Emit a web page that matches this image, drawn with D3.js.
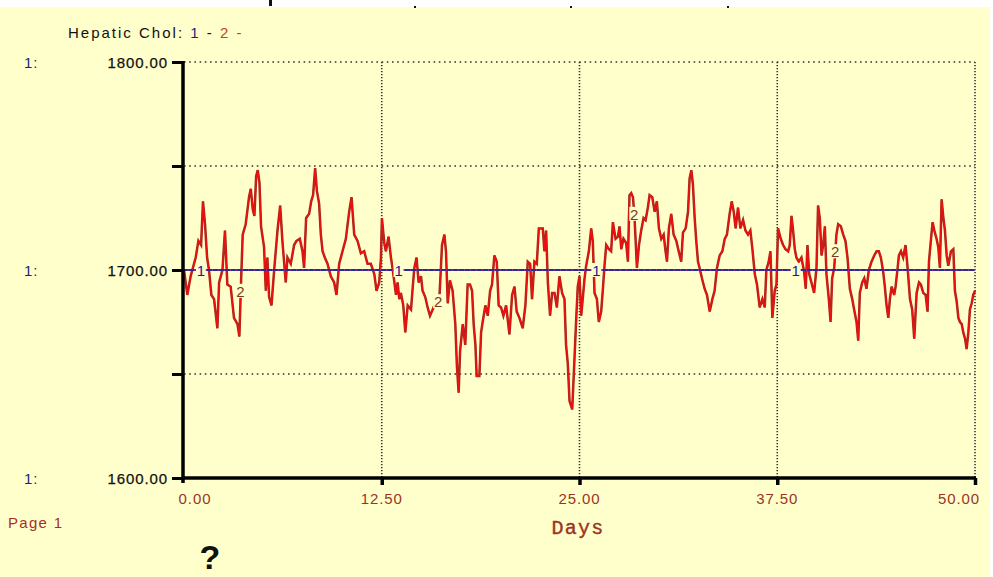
<!DOCTYPE html>
<html><head><meta charset="utf-8">
<script src="https://cdn.jsdelivr.net/npm/d3@7"></script>
<style>
html,body{margin:0;padding:0;background:#fff;}
svg{display:block;}
</style></head>
<body>
<script>
// ---- data ----
const yTicks = [1600, 1650, 1700, 1750, 1800];
const yLabelTicks = [1600, 1700, 1800];
const xTicks = [0, 12.5, 25, 37.5, 50];
const series1Days = [0, 50];
const series1Values = [1700, 1700];
const series1LabelDays = [1, 13.5, 26, 38.6];
const series2LabelDays = [3.5, 16.0, 28.4, 41.1];
const series2LabelValues = [1690, 1685, 1727, 1709];
const series2Days = [
 0.00,0.21,0.42,0.74,0.91,1.08,1.20,1.33,1.46,1.58,1.73,1.90,2.11,2.22,2.43,2.59,2.74,2.95,3.16,3.38,3.50,3.61,3.71,3.90,
 4.11,4.22,4.35,4.45,4.56,4.66,4.77,4.87,5.06,5.17,5.27,5.38,5.53,5.70,5.91,6.08,6.22,6.43,6.54,6.75,6.96,7.11,7.32,7.49,
 7.59,7.72,7.91,8.04,8.16,8.29,8.40,8.54,8.65,8.76,8.90,9.07,9.28,9.49,9.64,9.81,10.02,10.23,10.44,10.59,10.76,10.97,11.18,
 11.39,11.60,11.81,12.03,12.17,12.34,12.45,
 12.51,12.66,12.76,12.93,13.08,13.18,13.40,13.50,13.61,13.71,13.86,13.99,14.14,14.35,14.45,14.56,14.70,14.83,14.98,15.08,
 15.25,15.40,15.55,15.72,15.93,16.14,16.31,16.46,16.56,16.67,16.81,16.98,17.15,17.25,17.36,17.45,17.62,17.78,17.93,18.08,
 18.21,18.31,18.42,18.50,18.67,18.78,18.88,19.05,19.20,19.35,19.47,19.62,19.77,19.89,20.04,20.19,20.36,20.57,20.74,20.89,
 21.03,21.20,21.41,21.58,21.73,21.88,22.00,22.15,22.30,22.43,22.68,22.78,22.89,23.00,23.14,23.27,23.42,23.57,23.73,23.90,
 24.05,24.15,24.26,24.37,24.54,24.64,24.79,24.89,25.00,
 25.11,25.32,25.42,25.59,25.74,25.84,25.95,26.10,26.22,26.37,26.48,26.58,26.69,26.86,27.00,27.11,27.28,27.43,27.53,27.64,
 27.78,27.95,28.06,28.16,28.27,28.38,28.48,28.63,28.76,28.90,29.05,29.18,29.32,29.43,29.60,29.75,29.89,30.02,30.17,30.32,
 30.44,30.53,30.65,30.80,30.95,31.12,31.27,31.43,31.54,31.71,31.86,31.96,32.07,32.17,32.28,32.38,32.49,32.59,32.74,32.91,
 33.06,33.23,33.40,33.54,33.69,33.86,34.03,34.18,34.32,34.49,34.62,34.75,34.87,35.02,35.17,35.34,35.49,35.65,35.80,35.93,
 36.08,36.22,36.39,36.56,36.71,36.81,36.96,37.07,37.19,37.34,
 37.45,37.55,37.72,37.87,38.02,38.19,38.29,38.40,38.50,38.61,38.71,38.86,39.03,39.20,39.30,39.41,39.52,39.66,39.83,39.98,
 40.08,40.19,40.30,40.40,40.51,40.61,40.76,40.87,40.97,41.10,41.24,41.35,41.52,41.67,41.81,41.94,42.09,42.24,42.36,42.51,
 42.62,42.72,42.87,43.00,43.14,43.29,43.46,43.63,43.78,43.92,44.05,44.20,44.30,44.41,44.52,44.62,44.73,44.89,44.98,45.11,
 45.19,45.32,45.46,45.61,45.74,45.89,46.03,46.16,46.31,46.46,46.58,46.73,46.88,47.00,47.09,47.22,47.32,47.43,47.57,47.68,
 47.78,47.89,48.00,48.10,48.21,48.31,48.48,48.63,48.73,48.84,48.95,49.05,49.16,49.26,49.37,49.47,49.58,49.68,49.79,49.89,50.00
];
const series2Values = [
 1700,1688,1697,1706,1714,1712,1733,1722,1706,1700,1688,1686,1672,1694,1700,1719,1693,1692,1677,1674,1668,1695,1717,1722,
 1735,1739,1729,1726,1745,1748,1742,1721,1711,1690,1706,1687,1683,1700,1719,1731,1714,1694,1706,1703,1712,1714,1715,1709,
 1701,1725,1727,1733,1736,1749,1738,1732,1717,1709,1706,1703,1697,1694,1688,1703,1709,1715,1728,1735,1717,1714,1708,
 1709,1703,1703,1698,1690,1694,1706,
 1725,1713,1709,1716,1706,1701,1688,1694,1686,1689,1683,1670,1683,1681,1691,1701,1706,1694,1697,1690,
 1687,1682,1678,1681,1685,1686,1712,1717,1709,1684,1695,1690,1674,1654,1641,1661,1674,1664,1693,1693,
 1690,1674,1664,1649,1649,1670,1675,1683,1678,1690,1693,1707,1704,1683,1682,1678,1683,1669,1688,1692,
 1680,1677,1672,1683,1704,1703,1686,1704,1703,1720,1720,1709,1719,1694,1678,1689,1689,1682,1697,1689,
 1686,1664,1655,1637,1633,1650,1676,1692,1697,
 1678,1696,1702,1709,1720,1714,1689,1686,1675,1680,1691,1702,1712,1710,1709,1723,1715,1716,1721,1710,
 1715,1713,1704,1736,1737,1735,1725,1701,1712,1719,1725,1724,1730,1736,1735,1728,1733,1720,1715,1717,
 1709,1704,1720,1727,1717,1714,1709,1704,1718,1720,1728,1744,1748,1741,1725,1714,1704,1701,1696,1691,
 1688,1680,1686,1690,1701,1707,1709,1715,1717,1727,1733,1728,1720,1730,1720,1724,1719,1717,1719,1710,
 1698,1693,1682,1686,1682,1700,1704,1709,1677,1690,
 1693,1720,1715,1712,1710,1709,1712,1726,1719,1710,1706,1704,1706,1699,1691,1712,1698,1694,1689,1701,
 1731,1725,1707,1712,1721,1698,1686,1675,1696,1701,1717,1722,1721,1717,1714,1706,1691,1686,1681,1675,
 1666,1689,1694,1696,1691,1700,1704,1707,1709,1709,1706,1699,1692,1683,1677,1686,1692,1688,1692,1701,
 1707,1709,1706,1712,1701,1686,1681,1667,1689,1694,1693,1689,1688,1680,1704,1715,1723,1719,1715,1711,
 1701,1734,1725,1719,1707,1702,1709,1710,1690,1685,1677,1675,1674,1670,1667,1662,1670,1681,1684,1688,1690
];

// ---- drawing ----
const W = 993, H = 577;
const bg = "#ffffcc";
const svg = d3.select("body").append("svg").attr("width", W).attr("height", H);
svg.append("rect").attr("width", W).attr("height", H).attr("fill", "#ffffff");
svg.append("rect").attr("x", 0).attr("y", 7).attr("width", 990).attr("height", H - 7).attr("fill", bg);
// toolbar remnants at top
[[269, 0, 3, 6], [414, 6, 2, 2], [570, 6, 2, 2], [727, 6, 2, 2]].forEach(d =>
  svg.append("rect").attr("x", d[0]).attr("y", d[1]).attr("width", d[2]).attr("height", d[3]).attr("fill", "#111"));

const x = d3.scaleLinear().domain([0, 50]).range([184, 975]);
const y = d3.scaleLinear().domain([1600, 1800]).range([478, 62]);

const font = "'Liberation Sans', Arial, sans-serif";
const brown = "#9c3424";
const navy = "#1f1f78";

// gridlines
const grid = svg.append("g");
grid.selectAll(".hg").data(yTicks.filter(v => v > 1600)).join("line")
  .attr("x1", x(0)).attr("x2", x(50)).attr("y1", d => y(d)).attr("y2", d => y(d))
  .attr("stroke", "#333").attr("stroke-width", 1.6).attr("stroke-dasharray", "1.6,3.6");
grid.selectAll(".vg").data(xTicks.filter(v => v > 0)).join("line")
  .attr("x1", d => x(d)).attr("x2", d => x(d)).attr("y1", y(1800)).attr("y2", y(1600))
  .attr("stroke", "#333").attr("stroke-width", 1.6).attr("stroke-dasharray", "1.2,1.8");

// series 2 (red)
const line = d3.line().x((d, i) => x(series2Days[i])).y(d => y(d));
svg.append("path").datum(series2Values).attr("d", line)
  .attr("fill", "none").attr("stroke", "#a8281c").attr("stroke-width", 2.5).attr("stroke-linejoin", "miter");
svg.append("path").datum(series2Values).attr("d", line)
  .attr("fill", "none").attr("stroke", "#ec1010").attr("stroke-width", 1.3);

// series 1 (blue)
const line1 = d3.line().x((d, i) => x(series1Days[i])).y(d => y(d));
svg.append("path").datum(series1Values).attr("d", line1)
  .attr("fill", "none").attr("stroke", "#2a2aa0").attr("stroke-width", 2.2);
svg.append("line").attr("x1", x(0)).attr("x2", x(50)).attr("y1", y(1700)).attr("y2", y(1700))
  .attr("stroke", "#d04070").attr("stroke-width", 1).attr("stroke-dasharray", "1,5").attr("stroke-dashoffset", 2);

// series labels
series1LabelDays.forEach(d => {
  const g = svg.append("g");
  g.append("rect").attr("x", x(d) - 4).attr("y", y(1700) - 7).attr("width", 10).attr("height", 14).attr("fill", bg);
  g.append("text").attr("x", x(d) + 1).attr("y", y(1700) + 6).attr("text-anchor", "middle")
    .attr("font-family", font).attr("font-size", 15).attr("fill", "#1a1a9a").text("1");
});
series2LabelDays.forEach((d, i) => {
  const g = svg.append("g");
  g.append("rect").attr("x", x(d) - 4).attr("y", y(series2LabelValues[i]) - 7).attr("width", 10).attr("height", 14).attr("fill", bg);
  g.append("text").attr("x", x(d) + 1).attr("y", y(series2LabelValues[i]) + 6).attr("text-anchor", "middle")
    .attr("font-family", font).attr("font-size", 15).attr("fill", "#7a3a22").text("2");
});

// axes
const yAxis = d3.axisLeft(y).tickValues(yTicks).tickSize(11).tickFormat("");
const gy = svg.append("g").attr("transform", `translate(${x(0) - 1},0)`).call(yAxis);
gy.select(".domain").attr("stroke", "#000").attr("stroke-width", 3.5).attr("d", `M0,${y(1800) - 1}V${y(1600) + 5}`);
gy.selectAll(".tick line").attr("stroke", "#000").attr("stroke-width", 3);

const xAxis = d3.axisBottom(x).tickValues(xTicks.filter(v => v > 0)).tickSize(7).tickFormat("");
const gx = svg.append("g").attr("transform", `translate(0,${y(1600)})`).call(xAxis);
gx.select(".domain").attr("stroke", "#000").attr("stroke-width", 3.5).attr("d", `M${x(0) - 2},0H${x(50) + 1}`);
gx.selectAll(".tick line").attr("stroke", "#000").attr("stroke-width", 3.5);

// y tick labels
svg.selectAll(".ylab").data(yLabelTicks).join("text")
  .attr("x", 168).attr("y", d => y(d) + 6).attr("text-anchor", "end")
  .attr("font-family", font).attr("font-size", 15).attr("fill", "#111").attr("letter-spacing", "0.9")
  .attr("stroke", "#111").attr("stroke-width", 0.25)
  .text(d => d3.format(".2f")(d));
svg.selectAll(".ylab1").data(yLabelTicks).join("text")
  .attr("x", 24).attr("y", d => y(d) + 6)
  .attr("font-family", font).attr("font-size", 15).attr("fill", navy).attr("letter-spacing", "1").text("1:");

// x tick labels
svg.selectAll(".xlab").data(xTicks).join("text")
  .attr("x", d => d === 0 ? x(0) + 11 : d === 50 ? x(50) - 16 : x(d))
  .attr("y", 504).attr("text-anchor", "middle")
  .attr("font-family", font).attr("font-size", 15).attr("fill", brown).attr("letter-spacing", "0.9")
  .text(d => d3.format(".2f")(d));

// titles
const t = svg.append("text").attr("x", 68).attr("y", 38).attr("font-family", font).attr("font-size", 15)
  .attr("letter-spacing", "2").attr("fill", "#111");
t.append("tspan").text("Hepatic Chol: ");
t.append("tspan").attr("fill", navy).text("1");
t.append("tspan").text(" - ");
t.append("tspan").attr("fill", "#c8401c").text("2");
t.append("tspan").attr("fill", "#c8401c").text(" -");

svg.append("text").attr("x", 578).attr("y", 534).attr("text-anchor", "middle")
  .attr("font-family", "'Liberation Mono', 'Courier New', monospace").attr("font-size", 20)
  .attr("letter-spacing", "1.2").attr("fill", brown).attr("stroke", brown).attr("stroke-width", 0.4).text("Days");
svg.append("text").attr("x", 8).attr("y", 528)
  .attr("font-family", font).attr("font-size", 15).attr("letter-spacing", "1.3").attr("fill", "#a8301c").text("Page 1");
svg.append("text").attr("x", 210).attr("y", 569).attr("text-anchor", "middle")
  .attr("font-family", font).attr("font-weight", "bold").attr("font-size", 34).attr("fill", "#111").text("?");
</script>
</body></html>
